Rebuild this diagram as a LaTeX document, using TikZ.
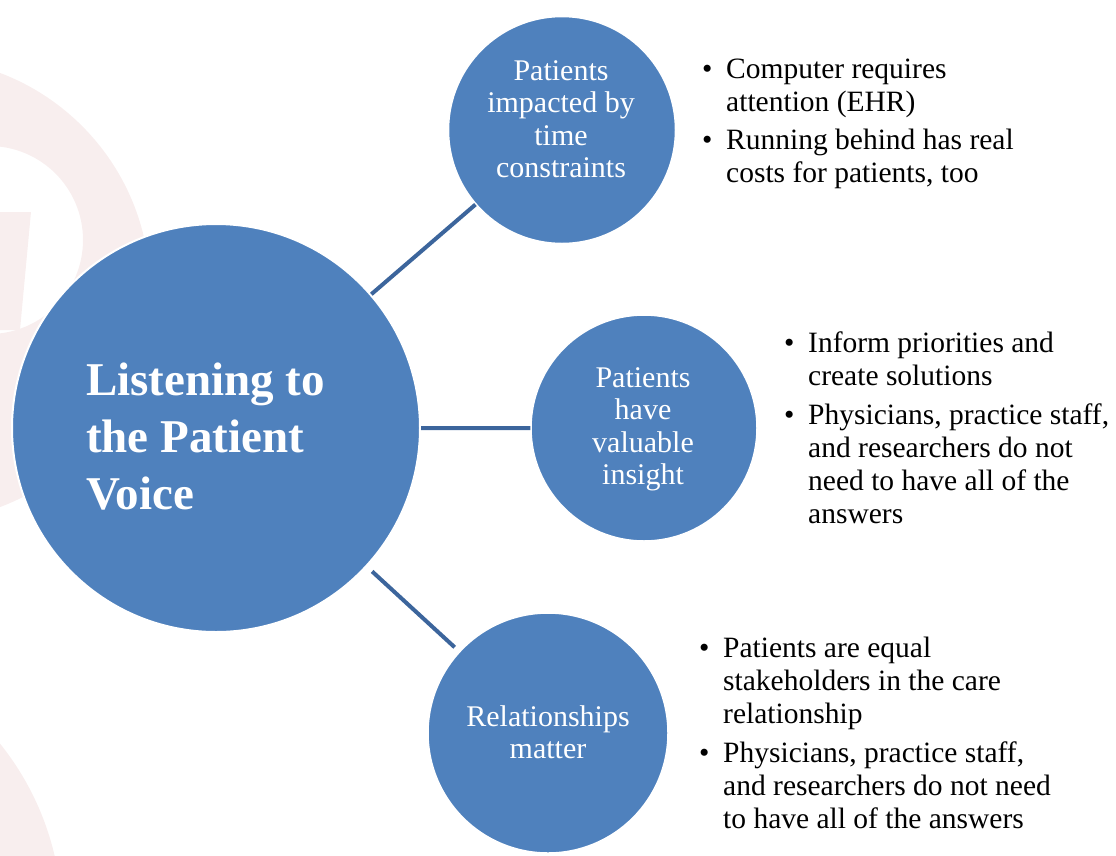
\documentclass[tikz,border=0pt]{standalone}
\usepackage{fontspec}
\setmainfont{Liberation Serif}
\usetikzlibrary{positioning}
\definecolor{hubblue}{HTML}{4F81BD}
\definecolor{linkblue}{HTML}{3C659C}
\definecolor{wmark}{HTML}{F8EEEE}
\newcommand{\bul}{\makebox[24pt][l]{\textbullet}}
\begin{document}
\begin{tikzpicture}[x=1pt, y=-1pt, every node/.style={inner sep=0pt},
  hub/.style={circle, fill=hubblue, draw=white, line width=2pt, minimum size=408pt},
  spoke/.style={circle, fill=hubblue, draw=white, line width=1.5pt, minimum size=#1},
  link/.style={draw=linkblue, line width=4pt, shorten <=7pt, shorten >=6pt},
  hubtext/.style={anchor=base west, text=white, font=\bfseries\fontsize{47}{57}\selectfont},
  spoketext/.style={anchor=base, text=white, font=\fontsize{30}{32.5}\selectfont},
  note/.style={anchor=base west, text=black, font=\fontsize{29.5}{33}\selectfont}]
\useasboundingbox (0,0) rectangle (1116,855);
% faint logo in the background
\fill[wmark, even odd rule] (-82,290) circle (232) (-11,240) circle (94);
\fill[wmark] (0,212) -- (31,212) -- (20,330) -- (0,330) -- cycle;
\fill[wmark] (-220,920) circle (282);
% circles
\node [hub] (hub) at (216,428) {};
\node [spoke=227pt] (tp) at (562,130) {};
\node [spoke=226pt] (md) at (644,428) {};
\node [spoke=240pt] (bt) at (548,733) {};
\path[link]
(hub) -- (tp)
(hub) -- (md)
(hub) -- (bt)
;
% texts in the circles
\node [hubtext] (hubt) at (86,395) {\begin{tabular}[t]{@{}l@{}}Listening to\\the Patient\\Voice\end{tabular}};
\node [spoketext] (tpt) at (561,80) {\begin{tabular}[t]{@{}c@{}}Patients\\impacted by\\time\\constraints\end{tabular}};
\node [spoketext] (mdt) at (643,387) {\begin{tabular}[t]{@{}c@{}}Patients\\have\\valuable\\insight\end{tabular}};
\node [spoketext] (btt) at (548,726) {\begin{tabular}[t]{@{}c@{}}Relationships\\matter\end{tabular}};
% bullet notes
\node [note] (tpn) at (702,78) {\begin{tabular}[t]{@{}l@{}l@{}}
\bul & Computer requires\\ & attention (EHR)\\[5pt]
\bul & Running behind has real\\ & costs for patients, too\end{tabular}};
\node [note] (mdn) at (784,352) {\begin{tabular}[t]{@{}l@{}l@{}}
\bul & Inform priorities and\\ & create solutions\\[6pt]
\bul & Physicians, practice staff,\\ & and researchers do not\\ & need to have all of the\\ & answers\end{tabular}};
\node [note] (btn) at (699,657) {\begin{tabular}[t]{@{}l@{}l@{}}
\bul & Patients are equal\\ & stakeholders in the care\\ & relationship\\[6pt]
\bul & Physicians, practice staff,\\ & and researchers do not need\\ & to have all of the answers\end{tabular}};
\end{tikzpicture}
\end{document}
